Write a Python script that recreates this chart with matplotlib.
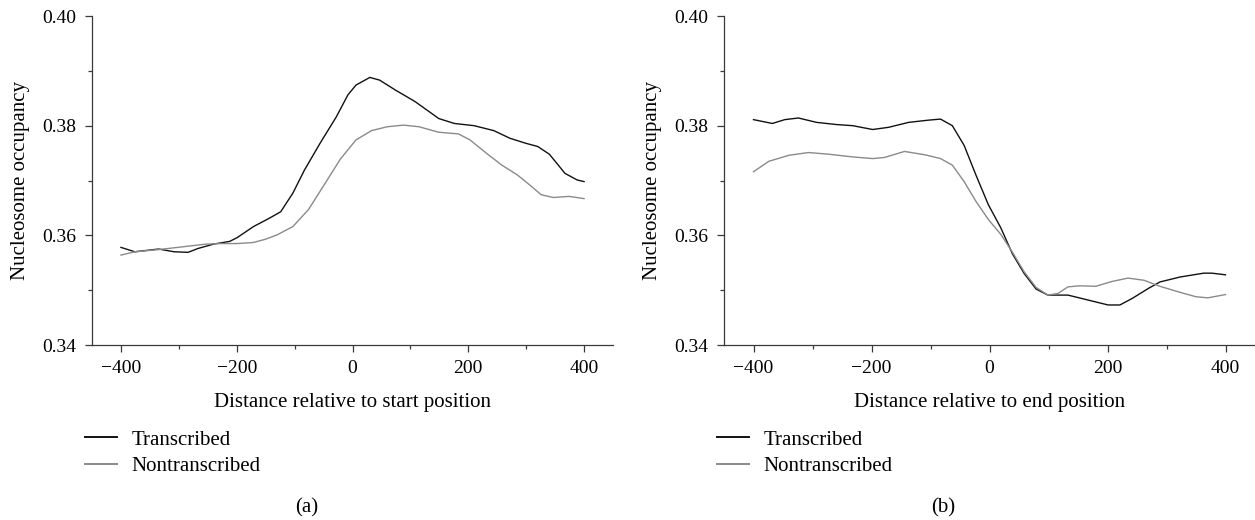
import matplotlib
matplotlib.use("Agg")
import matplotlib.pyplot as plt
from matplotlib.ticker import MultipleLocator, FormatStrFormatter

plt.rcParams['font.family'] = ['Liberation Serif', 'DejaVu Serif']

# Panel (a): distance relative to start position
a_trans_x = [-400, -376, -335, -308, -284, -267, -240, -212, -199, -171, -144, -124, -103, -83, -56, -28, -8, 6, 30, 47, 74, 108, 149, 176, 210, 244, 272, 299, 320, 340, 354, 367, 388, 400]
a_trans_y = [0.3578, 0.3570, 0.3575, 0.3570, 0.3569, 0.3576, 0.3584, 0.3589, 0.3596, 0.3616, 0.3631, 0.3643, 0.3677, 0.3719, 0.3768, 0.3816, 0.3856, 0.3874, 0.3888, 0.3883, 0.3865, 0.3844, 0.3813, 0.3804, 0.3800, 0.3791, 0.3777, 0.3768, 0.3762, 0.3748, 0.3730, 0.3713, 0.3701, 0.3698]
a_non_x = [-400, -376, -335, -294, -253, -226, -199, -171, -150, -130, -103, -76, -49, -21, 6, 33, 60, 88, 115, 149, 183, 203, 231, 258, 285, 306, 326, 347, 374, 400]
a_non_y = [0.3564, 0.3570, 0.3574, 0.3579, 0.3584, 0.3585, 0.3585, 0.3587, 0.3593, 0.3601, 0.3616, 0.3647, 0.3692, 0.3739, 0.3774, 0.3791, 0.3798, 0.3801, 0.3798, 0.3788, 0.3785, 0.3774, 0.3750, 0.3728, 0.3710, 0.3692, 0.3674, 0.3669, 0.3671, 0.3667]

# Panel (b): distance relative to end position
b_trans_x = [-400, -368, -347, -324, -293, -259, -232, -198, -171, -137, -104, -83, -63, -43, -23, -2, 19, 39, 59, 79, 99, 133, 167, 201, 221, 242, 269, 289, 323, 363, 377, 400]
b_trans_y = [0.3811, 0.3804, 0.3811, 0.3814, 0.3806, 0.3802, 0.3800, 0.3793, 0.3797, 0.3806, 0.3810, 0.3812, 0.3800, 0.3764, 0.3710, 0.3656, 0.3614, 0.3566, 0.3530, 0.3502, 0.3491, 0.3491, 0.3482, 0.3473, 0.3473, 0.3485, 0.3503, 0.3515, 0.3524, 0.3531, 0.3531, 0.3528]
b_non_x = [-400, -374, -340, -307, -273, -232, -198, -178, -144, -110, -83, -63, -43, -23, -2, 19, 39, 59, 79, 99, 116, 133, 153, 180, 208, 235, 262, 289, 323, 350, 370, 400]
b_non_y = [0.3716, 0.3735, 0.3746, 0.3751, 0.3748, 0.3743, 0.3740, 0.3742, 0.3753, 0.3747, 0.3740, 0.3728, 0.3698, 0.3662, 0.3629, 0.3602, 0.3569, 0.3533, 0.3505, 0.3491, 0.3494, 0.3506, 0.3508, 0.3507, 0.3516, 0.3522, 0.3518, 0.3507, 0.3496, 0.3488, 0.3486, 0.3492]

series_labels = ["Transcribed", "Nontranscribed"]
xlabels = ["Distance relative to start position", "Distance relative to end position"]
ylabel = "Nucleosome occupancy"
panel_tags = ["(a)", "(b)"]

W, H = 1255, 520
fig = plt.figure(figsize=(W / 100, H / 100), dpi=100)

def fx(px):
    return px / W

def fy(py):
    return 1 - py / H

axes_px = [(92, 613), (724, 1255)]
top_px, bot_px = 16, 345
legend_px = [85, 717]
tag_px = [307, 943]

data = [((a_trans_x, a_trans_y), (a_non_x, a_non_y)),
        ((b_trans_x, b_trans_y), (b_non_x, b_non_y))]

FS = 14
LFS = 15
spine_col = "#3a3a3a"
for i in range(2):
    l, r = axes_px[i]
    ax = fig.add_axes([fx(l), fy(bot_px), fx(r - l), fy(top_px) - fy(bot_px)])
    (tx, ty), (nx, ny) = data[i]
    ax.plot(tx, ty, color="#111111", lw=1.0, label=series_labels[0])
    ax.plot(nx, ny, color="#8a8a8a", lw=1.0, label=series_labels[1])
    ax.set_xlim(-450, 450)
    ax.set_ylim(0.34, 0.40)
    ax.xaxis.set_major_locator(MultipleLocator(200))
    ax.xaxis.set_minor_locator(MultipleLocator(100))
    ax.yaxis.set_major_locator(MultipleLocator(0.02))
    ax.yaxis.set_minor_locator(MultipleLocator(0.01))
    ax.yaxis.set_major_formatter(FormatStrFormatter('%.2f'))
    for s in ["top", "right"]:
        ax.spines[s].set_visible(False)
    for s in ["left", "bottom"]:
        ax.spines[s].set_color(spine_col)
        ax.spines[s].set_linewidth(0.9)
    ax.tick_params(which="major", direction="out", length=5, width=0.9,
                   color=spine_col, labelsize=FS, pad=6)
    ax.tick_params(which="minor", direction="out", length=3, width=0.9,
                   color=spine_col)
    ax.set_xlabel(xlabels[i], fontsize=LFS, labelpad=11)
    ax.set_ylabel(ylabel, fontsize=LFS, labelpad=9)
    leg = ax.legend(loc="upper left", bbox_to_anchor=(fx(legend_px[i]), fy(430)),
                    bbox_transform=fig.transFigure, frameon=False, fontsize=LFS,
                    handlelength=1.55, handletextpad=0.7, labelspacing=0.35,
                    borderpad=0, borderaxespad=0)
    for h in leg.get_lines():
        h.set_linewidth(1.4)
    fig.text(fx(tag_px[i]), fy(508), panel_tags[i], fontsize=LFS,
             ha="center", va="center")

fig.savefig("out.png", dpi=100)
